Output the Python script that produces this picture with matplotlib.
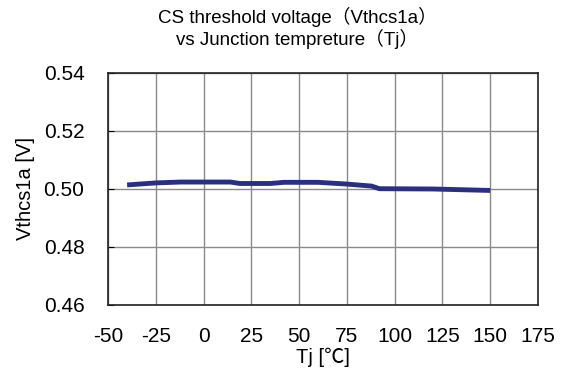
import matplotlib.pyplot as plt

plt.rcParams['font.family'] = ['Liberation Sans', 'Noto Sans CJK JP', 'DejaVu Sans']
plt.rcParams['axes.unicode_minus'] = False

# junction temperature vs CS threshold voltage
tj = [-40, -25, -12, 0, 14, 19, 35, 42, 60, 75, 88, 92, 120, 150]
vth = [0.5014, 0.5021, 0.5024, 0.5024, 0.5024, 0.5019, 0.5019, 0.5023,
       0.5023, 0.5017, 0.5010, 0.5001, 0.5000, 0.4995]

x_ticks = [-50, -25, 0, 25, 50, 75, 100, 125, 150, 175]
y_ticks = [0.46, 0.48, 0.50, 0.52, 0.54]

fig = plt.figure(figsize=(5.61, 3.79), dpi=100)
ax = fig.add_axes([108 / 561, 1 - 305 / 379, 430 / 561, 232 / 379])

ax.plot(tj, vth, color='#2A2F7E', lw=3.5, solid_capstyle='butt', zorder=3)

ax.set_xlim(-50, 175)
ax.set_ylim(0.46, 0.54)
ax.set_xticks(x_ticks)
ax.set_yticks(y_ticks)
ax.set_yticklabels([f'{v:.2f}' for v in y_ticks])
ax.grid(True, color='#8a8a8a', lw=1)
ax.tick_params(axis='y', direction='in', length=4, labelsize=15, pad=17)
ax.tick_params(axis='x', length=0, labelsize=15, pad=16)
for s in ax.spines.values():
    s.set_linewidth(1.2)
    s.set_color('#222222')

ax.set_xlabel('Tj [℃]', fontsize=14.5, labelpad=1)
ax.set_ylabel('Vthcs1a [V]', fontsize=14.5, labelpad=6)

fig.text(0.53, 1 - 17 / 379, 'CS threshold voltage（Vthcs1a）',
         ha='center', va='center', fontsize=13.5)
fig.text(0.53, 1 - 39 / 379, 'vs Junction tempreture（Tj）',
         ha='center', va='center', fontsize=13.5)

fig.savefig('out.png', dpi=100)
